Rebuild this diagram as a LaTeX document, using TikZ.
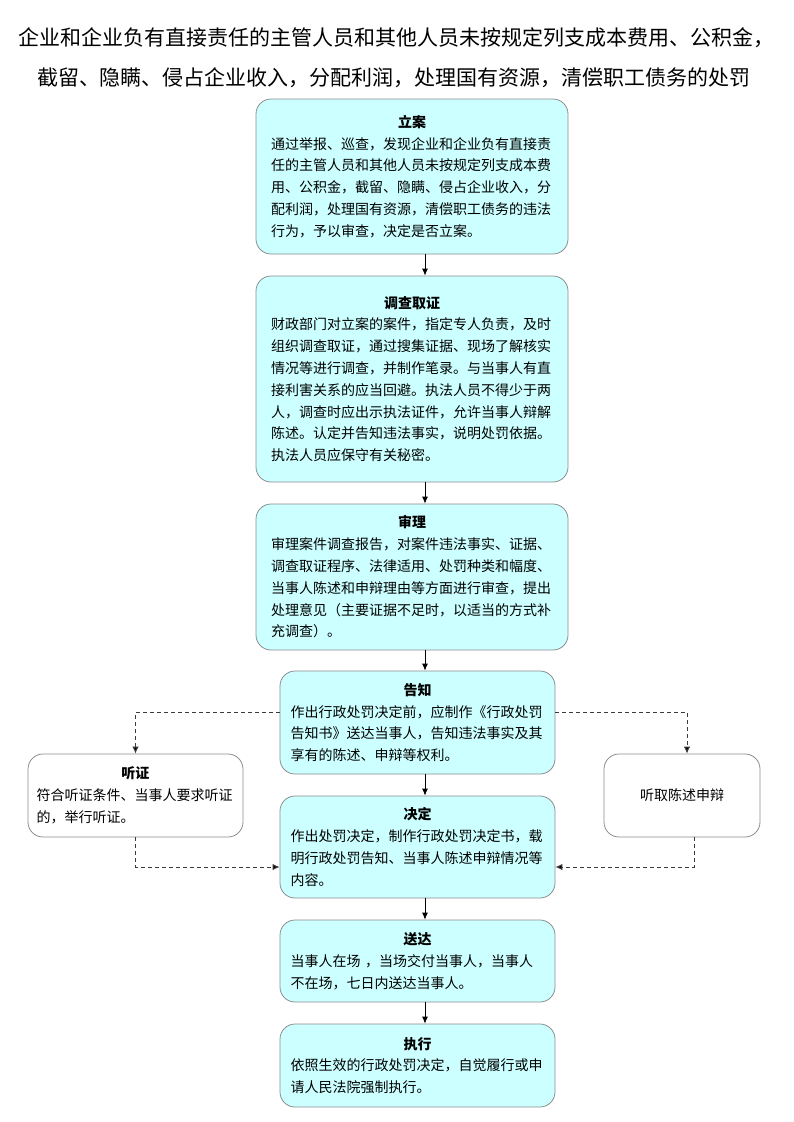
\documentclass[tikz,border=0pt]{standalone}
\usepackage{fontspec}
\setmainfont{Noto Sans CJK SC}
\usetikzlibrary{arrows.meta}
\definecolor{boxcyan}{HTML}{CCFFFF}
\definecolor{boxgray}{HTML}{8C8C8C}
\definecolor{dashgray}{HTML}{3A3A3A}
\begin{document}
\begin{tikzpicture}[x=1pt,y=-1pt,
  box/.style={draw=boxgray, line width=0.8pt, rounded corners=15pt, fill=boxcyan,
    inner xsep=0pt, inner ysep=0pt, align=left, font=\fontsize{14}{21.8}\selectfont},
  whitebox/.style={box, fill=white},
  arr/.style={-{Latex[length=7pt,width=6pt]}, line width=0.8pt, black},
  darr/.style={-{Latex[length=7pt,width=6.5pt,fill=black]}, line width=1pt, dashgray, dash pattern=on 4pt off 3pt},
  ttl/.style={font=\fontsize{21}{21}\selectfont, inner sep=0pt}
]
\useasboundingbox (0,0) rectangle (793,1122);
\node[ttl] (t1) at (397,38) {企业和企业负有直接责任的主管人员和其他人员未按规定列支成本费用、公积金，};
\node[ttl] (t2) at (394,78) {截留、隐瞒、侵占企业收入，分配利润，处理国有资源，清偿职工债务的处罚};

\node[box, minimum width=312pt, minimum height=155pt, text width=282pt] (lian) at (412,176.5) {%
\centerline{\bfseries 立案}
通过举报、巡查，发现企业和企业负有直接责\\
任的主管人员和其他人员未按规定列支成本费\\
用、公积金，截留、隐瞒、侵占企业收入，分\\
配利润，处理国有资源，清偿职工债务的违法\\
行为，予以审查，决定是否立案。\\[4pt]};

\node[box, minimum width=312pt, minimum height=206pt, text width=282pt] (diaocha) at (412,379) {%
\centerline{\bfseries 调查取证}
财政部门对立案的案件，指定专人负责，及时\\
组织调查取证，通过搜集证据、现场了解核实\\
情况等进行调查，并制作笔录。与当事人有直\\
接利害关系的应当回避。执法人员不得少于两\\
人，调查时应出示执法证件，允许当事人辩解\\
陈述。认定并告知违法事实，说明处罚依据。\\
执法人员应保守有关秘密。\\[6pt]};

\node[box, minimum width=312pt, minimum height=146pt, text width=282pt] (shenli) at (412,577) {%
\centerline{\bfseries 审理}
审理案件调查报告，对案件违法事实、证据、\\
调查取证程序、法律适用、处罚种类和幅度、\\
当事人陈述和申辩理由等方面进行审查，提出\\
处理意见（主要证据不足时，以适当的方式补\\
充调查）。};

\node[box, minimum width=275pt, minimum height=103pt, text width=254pt] (gaozhi) at (417.5,722.5) {%
\centerline{\bfseries 告知}
作出行政处罚决定前，应制作《行政处罚\\
告知书》送达当事人，告知违法事实及其\\
享有的陈述、申辩等权利。};

\node[box, minimum width=275pt, minimum height=102pt, text width=254pt] (jueding) at (417.5,847) {%
\centerline{\bfseries 决定}
作出处罚决定，制作行政处罚决定书，载\\
明行政处罚告知、当事人陈述申辩情况等\\
内容。};

\node[box, minimum width=275pt, minimum height=82pt, text width=254pt] (songda) at (417.5,961) {%
\centerline{\bfseries 送达}
当事人在场 ，当场交付当事人，当事人\\
不在场，七日内送达当事人。};

\node[box, minimum width=275pt, minimum height=83pt, text width=254pt] (zhixing) at (417.5,1065.5) {%
\centerline{\bfseries 执行}
依照生效的行政处罚决定，自觉履行或申\\
请人民法院强制执行。};

\node[whitebox, minimum width=215pt, minimum height=83pt, text width=198pt] (tingzheng) at (135.5,795.5) {%
\centerline{\bfseries 听证}
符合听证条件、当事人要求听证\\
的，举行听证。};

\node[whitebox, minimum width=156pt, minimum height=83pt, align=center] (tingqu) at (682,795.5) {听取陈述申辩};

\coordinate (ax) at (425,0);
\draw[arr] (lian.south -| ax) -- (diaocha.north -| ax);
\draw[arr] (diaocha.south -| ax) -- (shenli.north -| ax);
\draw[arr] (shenli.south -| ax) -- (gaozhi.north -| ax);
\draw[arr] (gaozhi.south -| ax) -- (jueding.north -| ax);
\draw[arr] (jueding.south -| ax) -- (songda.north -| ax);
\draw[arr] (songda.south -| ax) -- (zhixing.north -| ax);

\draw[darr] ([yshift=10.5pt]gaozhi.west) -| (tingzheng.north);
\draw[darr] ([yshift=10.5pt]gaozhi.east) -| ([xshift=5pt]tingqu.north);
\draw[darr] (tingzheng.south) |- ([yshift=-20pt]jueding.west);
\draw[darr] ([xshift=12pt]tingqu.south) |- ([yshift=-20pt]jueding.east);
\end{tikzpicture}
\end{document}
